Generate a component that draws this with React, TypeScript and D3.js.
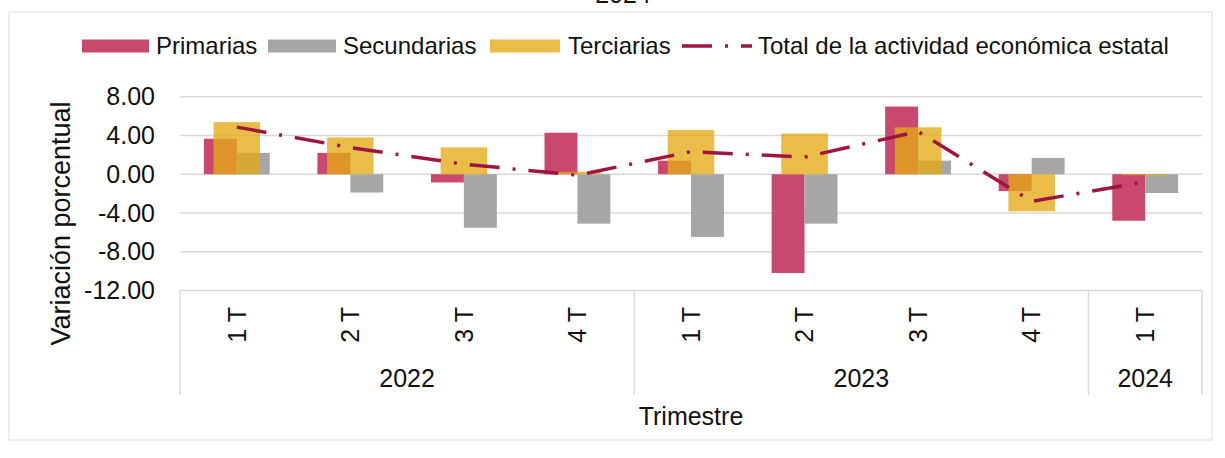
import React from "react";
import * as d3 from "d3";

// trimestres y años
const quarters = ["1 T", "2 T", "3 T", "4 T", "1 T", "2 T", "3 T", "4 T", "1 T"];
const years = ["2022", "2023", "2024"];
const quartersPerYear = [4, 4, 1];

// variación porcentual por sector
const primarias = [3.66, 2.2, -0.85, 4.28, 1.4, -10.2, 6.98, -1.74, -4.8];
const secundarias = [2.2, -1.89, -5.52, -5.1, -6.47, -5.1, 1.4, 1.68, -1.94];
const terciarias = [5.38, 3.8, 2.77, 0.25, 4.56, 4.2, 4.84, -3.83, -0.1];
const total = [4.86, 2.75, 1.04, -0.1, 2.33, 1.76, 4.4, -2.8, -0.8];

const yTicks = [-12, -8, -4, 0, 4, 8];

const PINK = "#C9486E";
const GRAY = "#A6A6A6";
const GOLD = "#E4AA14";
const GOLD_OPACITY = 0.78;
const LINE = "#9E1540";
const GRID = "#D9D9D9";
const FONT = "'Liberation Sans', Arial, sans-serif";
const DASH = "30 13 3 13";

const W = 1225;
const H = 458;
const left = 180;
const right = 1202;
const top = 96.7;
const bottom = 290.5;

const App = () => {
  const idx = quarters.map((_, i) => String(i));

  const x = d3.scaleBand<string>().domain(idx).range([left, right]).paddingInner(0.42).paddingOuter(0.21);
  const xSub = d3.scaleBand<string>().domain(["p", "s"]).range([0, x.bandwidth()]);
  const xT = d3.scaleBand<string>().domain(idx).range([left, right]).paddingInner(0.59).paddingOuter(0.295);
  const y = d3.scaleLinear().domain([-12, 8]).range([bottom, top]);

  const step = x.step();
  const center = (i: number) => (x(String(i)) as number) + x.bandwidth() / 2;

  const line = d3
    .line<number>()
    .x((_, i) => center(i))
    .y((d) => y(d));

  const bar = (v: number) => ({ y: y(Math.max(0, v)), h: Math.abs(y(v) - y(0)) });

  // separadores de año
  let acc = 0;
  const yearBlocks = years.map((yr, k) => {
    const x0 = left + acc * step;
    acc += quartersPerYear[k];
    const x1 = left + acc * step;
    return { yr, x0, x1 };
  });

  return (
    <svg
      width={W}
      height={H}
      style={{ position: "absolute", left: 0, top: 0, background: "#fff" }}
      fontFamily={FONT}
    >
      <rect x={9} y={12} width={1203} height={428} fill="none" stroke="#E8E8E8" strokeWidth={1.5} />
      <text x={623} y={3} fontSize={25} textAnchor="middle" fill="#111">
        2024
      </text>

      {/* leyenda */}
      <g fontSize={24} fill="#111">
        <rect x={82} y={39.5} width={67} height={13} fill={PINK} />
        <text x={156} y={54}>Primarias</text>
        <rect x={268} y={39.5} width={68} height={13} fill={GRAY} />
        <text x={343} y={54}>Secundarias</text>
        <rect x={490} y={39.5} width={70} height={13} fill={GOLD} fillOpacity={GOLD_OPACITY} />
        <text x={568} y={54}>Terciarias</text>
        <line x1={682} x2={752} y1={46} y2={46} stroke={LINE} strokeWidth={3.5} strokeDasharray={DASH} />
        <text x={758} y={54}>Total de la actividad económica estatal</text>
      </g>

      {/* rejilla */}
      {yTicks.map((t) => (
        <g key={t}>
          <line x1={left} x2={right} y1={y(t)} y2={y(t)} stroke={GRID} strokeWidth={1.4} />
          <text x={155} y={y(t)} dy="0.35em" textAnchor="end" fontSize={25} fill="#111">
            {t.toFixed(2)}
          </text>
        </g>
      ))}

      {/* caja de categorías */}
      {[left, ...yearBlocks.map((b) => b.x1)].map((xx, i) => (
        <line key={i} x1={xx} x2={xx} y1={bottom} y2={395} stroke={GRID} strokeWidth={1.4} />
      ))}

      {/* barras */}
      {primarias.map((v, i) => {
        const b = bar(v);
        return (
          <rect key={"p" + i} x={(x(String(i)) as number) + (xSub("p") as number)} y={b.y} width={xSub.bandwidth()} height={b.h} fill={PINK} />
        );
      })}
      {secundarias.map((v, i) => {
        const b = bar(v);
        return (
          <rect key={"s" + i} x={(x(String(i)) as number) + (xSub("s") as number)} y={b.y} width={xSub.bandwidth()} height={b.h} fill={GRAY} />
        );
      })}
      {terciarias.map((v, i) => {
        const b = bar(v);
        return (
          <rect key={"t" + i} x={xT(String(i)) as number} y={b.y} width={xT.bandwidth()} height={b.h} fill={GOLD} fillOpacity={GOLD_OPACITY} />
        );
      })}

      <path d={line(total) || ""} fill="none" stroke={LINE} strokeWidth={3.5} strokeDasharray={DASH} />

      {/* eje x */}
      {quarters.map((q, i) => (
        <text
          key={"q" + i}
          x={center(i)}
          y={307}
          dy="0.35em"
          transform={`rotate(-90, ${center(i)}, 307)`}
          textAnchor="end"
          fontSize={25}
          fill="#111"
        >
          {q}
        </text>
      ))}
      {yearBlocks.map((b) => (
        <text key={b.yr} x={(b.x0 + b.x1) / 2} y={387} textAnchor="middle" fontSize={25} fill="#111">
          {b.yr}
        </text>
      ))}
      <text x={(left + right) / 2} y={425} textAnchor="middle" fontSize={25} fill="#111">
        Trimestre
      </text>
      <text
        x={0}
        y={0}
        transform={`translate(70, 223.5) rotate(-90)`}
        textAnchor="middle"
        fontSize={27}
        fill="#111"
      >
        Variación porcentual
      </text>
    </svg>
  );
};

export default App;
